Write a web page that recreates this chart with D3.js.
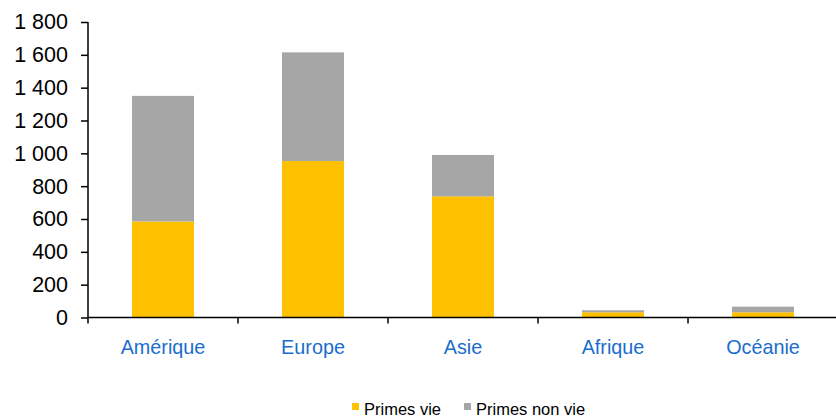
<!DOCTYPE html>
<html>
<head>
<meta charset="utf-8">
<script src="https://cdn.jsdelivr.net/npm/d3@7"></script>
<style>
  html, body { margin: 0; padding: 0; background: #fff; }
  svg { display: block; font-family: "Liberation Sans", Arial, sans-serif; }
</style>
</head>
<body>
<svg id="chart" width="836" height="420"></svg>
<script>
// Primes d'assurance par continent
const categories = ["Amérique", "Europe", "Asie", "Afrique", "Océanie"];
const primesVie = [585, 953, 738, 32, 32];
const primesNonVie = [765, 662, 252, 12, 34];
const yTicks = [0, 200, 400, 600, 800, 1000, 1200, 1400, 1600, 1800];
const seriesNames = ["Primes vie", "Primes non vie"];
const seriesColors = ["#FFC000", "#A6A6A6"];

const svg = d3.select("#chart");
const mLeft = 88, mRight = 838, mTop = 22, mBottom = 317.5;

const x = d3.scaleBand().domain(categories).range([mLeft, mRight])
  .paddingInner(0.5867).paddingOuter(0.2933);
const y = d3.scaleLinear().domain([0, 1800]).range([mBottom, mTop]);

const rows = categories.map((c, i) => ({ cat: c, vie: primesVie[i], nonvie: primesNonVie[i] }));
const stacked = d3.stack().keys(["vie", "nonvie"])(rows);

svg.append("g").selectAll("g").data(stacked).join("g")
  .attr("fill", (d, i) => seriesColors[i])
  .selectAll("rect").data(d => d).join("rect")
  .attr("x", d => x(d.data.cat))
  .attr("width", x.bandwidth())
  .attr("y", d => y(d[1]))
  .attr("height", d => y(d[0]) - y(d[1]));

// Y axis
const fmt = v => d3.format(",")(v).replace(/,/g, " ");
const yAxis = svg.append("g").attr("transform", `translate(${mLeft},0)`)
  .call(d3.axisLeft(y).tickValues(yTicks).tickFormat(fmt).tickSize(7).tickPadding(13));
yAxis.select(".domain").attr("stroke", "#000").attr("stroke-width", 1.5).attr("d", `M0,${mTop}V${mBottom}`);
yAxis.selectAll(".tick line").attr("stroke", "#000").attr("stroke-width", 1.5);
yAxis.selectAll(".tick text").attr("font-size", 21.5).attr("fill", "#000")
  .attr("font-family", "'Liberation Sans', Arial, sans-serif");

// X axis baseline with category separators
const xg = svg.append("g");
xg.append("line").attr("x1", mLeft).attr("x2", 836).attr("y1", mBottom).attr("y2", mBottom)
  .attr("stroke", "#000").attr("stroke-width", 1.5);
const bounds = d3.range(categories.length + 1).map(i => mLeft + i * x.step());
xg.selectAll("line.sep").data(bounds).join("line")
  .attr("class", "sep")
  .attr("x1", d => d).attr("x2", d => d)
  .attr("y1", mBottom).attr("y2", mBottom + 6)
  .attr("stroke", "#000").attr("stroke-width", 1.5);
xg.selectAll("text").data(categories).join("text")
  .attr("x", d => x(d) + x.bandwidth() / 2)
  .attr("y", 354)
  .attr("text-anchor", "middle")
  .attr("font-size", 19.8)
  .attr("fill", "#1A6DCC")
  .text(d => d);

// Legend
const legend = svg.append("g");
const legendX = [352, 464];
seriesNames.forEach((n, i) => {
  legend.append("rect").attr("x", legendX[i]).attr("y", 403).attr("width", 7).attr("height", 7)
    .attr("fill", seriesColors[i]);
  legend.append("text").attr("x", legendX[i] + 12).attr("y", 415)
    .attr("font-size", 16.5).attr("fill", "#000").text(n);
});
</script>
</body>
</html>
